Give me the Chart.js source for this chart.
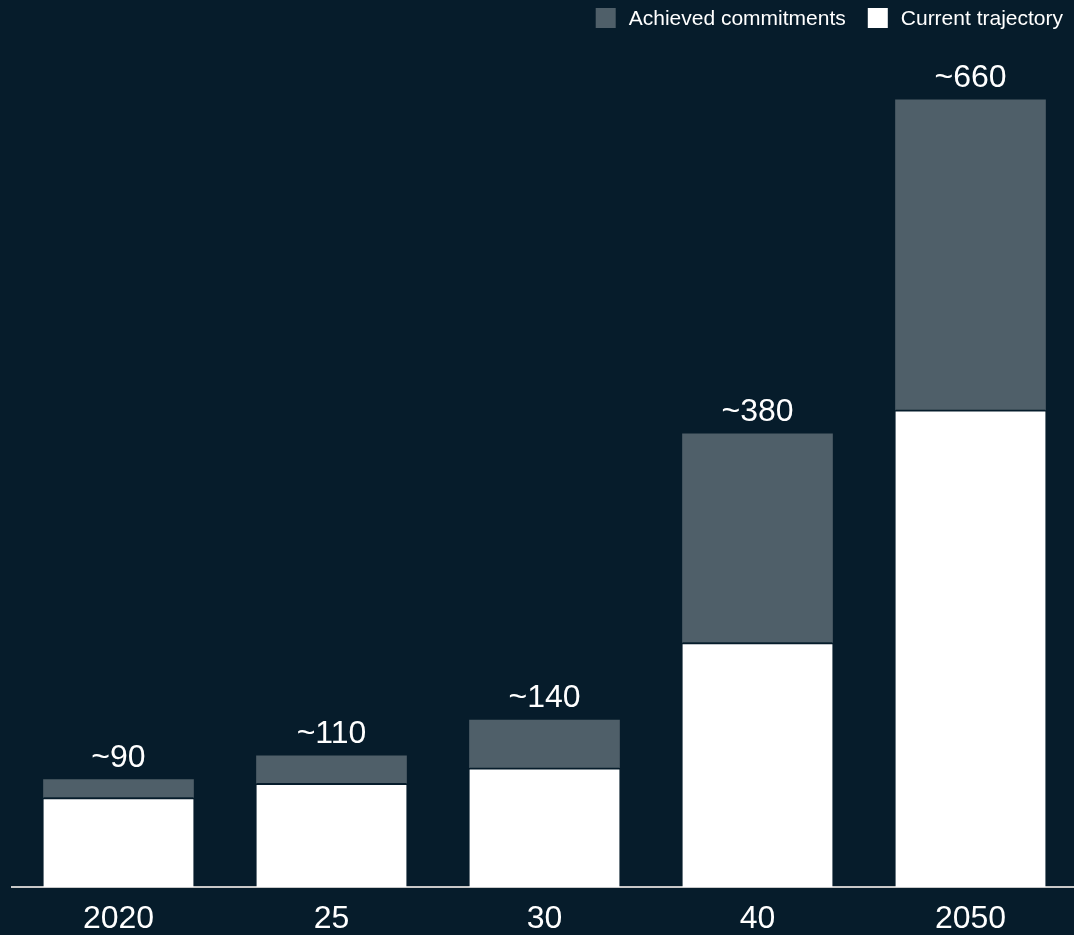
<!DOCTYPE html>
<html>
<head>
<meta charset="utf-8">
<script src="https://cdn.jsdelivr.net/npm/chart.js@4/dist/chart.umd.min.js"></script>
<style>
    html, body { margin: 0; padding: 0; background: #061c2b; overflow: hidden; }
    #wrap { width: 1077px; height: 935px; position: relative; }
</style>
</head>
<body>
<div id="wrap"><canvas id="chart"></canvas></div>
<script>
// Years on the x axis
const years = ['2020', '25', '30', '40', '2050'];
// Stacked segments (bottom: current trajectory, top: achieved commitments)
const currentTrajectory = [75, 87, 100, 205, 400];
const achievedCommitments = [15, 23, 40, 175, 260];

const colors = {
    background: '#061c2b',
    current: '#ffffff',
    achieved: '#4f5f69',
    axis: '#c8c8c8',
    text: '#ffffff'
};
const fontFamily = "'Liberation Sans', Arial, sans-serif";

// Totals written above each stack
const totalLabels = {
    id: 'totalLabels',
    afterDatasetsDraw(chart) {
        const ctx = chart.ctx;
        const y = chart.scales.y;
        const meta = chart.getDatasetMeta(1);
        ctx.save();
        ctx.fillStyle = colors.text;
        ctx.font = '32px ' + fontFamily;
        ctx.textAlign = 'center';
        ctx.textBaseline = 'alphabetic';
        years.forEach((yr, i) => {
            const total = currentTrajectory[i] + achievedCommitments[i];
            const bar = meta.data[i];
            ctx.fillText('~' + total, bar.x, y.getPixelForValue(total) - 13);
        });
        ctx.restore();
    }
};

// Legend drawn at the top right, right to left
const topLegend = {
    id: 'topLegend',
    afterDraw(chart) {
        const ctx = chart.ctx;
        const items = [
            { text: 'Current trajectory', color: colors.current },
            { text: 'Achieved commitments', color: colors.achieved }
        ];
        ctx.save();
        ctx.font = '21px ' + fontFamily;
        ctx.textBaseline = 'middle';
        ctx.textAlign = 'left';
        let right = 1063;
        items.forEach(item => {
            const w = ctx.measureText(item.text).width;
            const textX = right - w;
            const boxX = textX - 13 - 20;
            ctx.fillStyle = item.color;
            ctx.fillRect(boxX, 8, 20, 20);
            ctx.fillStyle = colors.text;
            ctx.fillText(item.text, textX, 19);
            right = boxX - 22;
        });
        ctx.restore();
    }
};

new Chart(document.getElementById('chart'), {
    type: 'bar',
    data: {
        labels: years,
        datasets: [
            {
                label: 'Current trajectory',
                data: currentTrajectory,
                backgroundColor: colors.current,
                borderColor: colors.background,
                borderWidth: { top: 2, left: 0, right: 0, bottom: 0 },
                borderSkipped: false
            },
            {
                label: 'Achieved commitments',
                data: achievedCommitments,
                backgroundColor: colors.achieved,
                borderWidth: 0
            }
        ]
    },
    options: {
        responsive: true,
        maintainAspectRatio: false,
        animation: false,
        layout: {
            padding: { top: 52, left: 12, right: 0, bottom: 0 }
        },
        datasets: {
            bar: {
                barThickness: 150
            }
        },
        plugins: {
            legend: { display: false },
            tooltip: { enabled: false }
        },
        scales: {
            x: {
                stacked: true,
                grid: { display: false, drawTicks: false },
                border: { display: true, color: colors.axis, width: 2 },
                ticks: {
                    color: colors.text,
                    padding: 13,
                    font: { size: 32, family: fontFamily }
                },
                afterFit(scale) {
                    scale.height = 48;
                }
            },
            y: {
                stacked: true,
                display: false,
                min: 0,
                max: 700
            }
        }
    },
    plugins: [totalLabels, topLegend]
});
</script>
</body>
</html>
